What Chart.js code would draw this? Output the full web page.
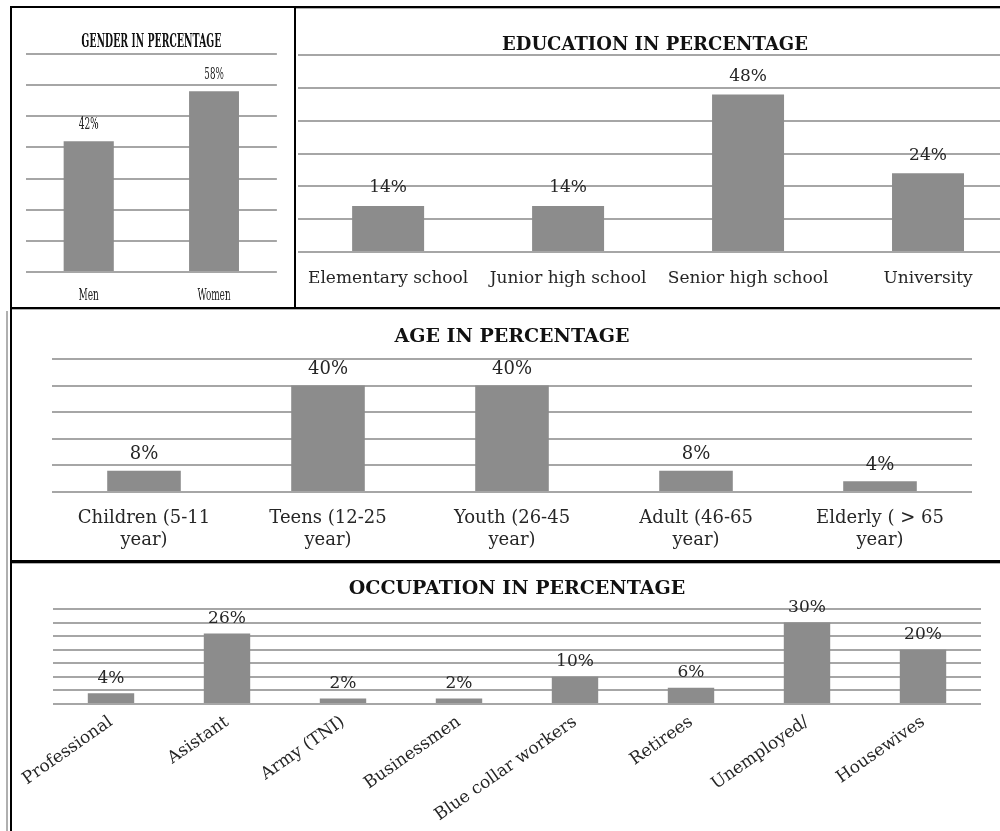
<!DOCTYPE html>
<html>
<head>
<meta charset="utf-8">
<script src="https://cdn.jsdelivr.net/npm/chart.js@4.4.1/dist/chart.umd.min.js"></script>
<style>
  html, body { margin: 0; padding: 0; background: #fff; }
  body { width: 1000px; height: 831px; overflow: hidden; position: relative; }
  .box { position: absolute; }
  .line { position: absolute; background: #000; }
  .gray { position: absolute; background: #b0b0b0; }
  canvas { display: block; }
</style>
</head>
<body>
<!-- the gender chart is squeezed sideways like the original -->
<div class="box" style="left:12px; top:9px; width:282px; height:297px; transform:scaleX(0.52); transform-origin:0 0;">
  <canvas id="genderChart" width="542" height="297"></canvas>
</div>
<div class="box" style="left:292px; top:9px;"><canvas id="educationChart" width="728" height="297"></canvas></div>
<div class="box" style="left:12px; top:310px;"><canvas id="ageChart" width="988" height="250"></canvas></div>
<div class="box" style="left:12px; top:564px;"><canvas id="occupationChart" width="988" height="267"></canvas></div>

<!-- panel borders -->
<div class="line" style="left:10px; top:6px; width:990px; height:2px;"></div>
<div class="gray" style="left:296px; top:8px; width:704px; height:1px;"></div>
<div class="line" style="left:10px; top:6px; width:2px; height:304px;"></div>
<div class="line" style="left:294px; top:6px; width:2px; height:304px;"></div>
<div class="line" style="left:10px; top:307px; width:990px; height:2px;"></div>
<div class="gray" style="left:12px; top:309px; width:988px; height:1px;"></div>
<div class="line" style="left:10px; top:307px; width:2px; height:524px;"></div>
<div class="gray" style="left:6px; top:311px; width:2px; height:520px;"></div>
<div class="line" style="left:10px; top:560px; width:990px; height:3px;"></div>
<div class="gray" style="left:12px; top:563px; width:988px; height:1px;"></div>

<script>
var genderLabels = ['Men', 'Women'];
var genderValues = [42, 58];

var educationLabels = ['Elementary school', 'Junior high school', 'Senior high school', 'University'];
var educationValues = [14, 14, 48, 24];

var ageLabels = [['Children (5-11', 'year)'], ['Teens (12-25', 'year)'], ['Youth (26-45', 'year)'], ['Adult (46-65', 'year)'], ['Elderly ( > 65', 'year)']];
var ageValues = [8, 40, 40, 8, 4];

var occupationLabels = ['Professional', 'Asistant', 'Army (TNI)', 'Businessmen', 'Blue collar workers', 'Retirees', 'Unemployed/', 'Housewives'];
var occupationValues = [4, 26, 2, 2, 10, 6, 30, 20];

var barColor = '#8c8c8c';
var gridColor = '#a6a6a6';
var textColor = '#262626';

Chart.defaults.font.family = '"DejaVu Serif", serif';
Chart.defaults.color = textColor;

// percent labels above each bar
var valueLabels = {
  id: 'valueLabels',
  afterDatasetsDraw: function(chart, args, opts) {
    var ctx = chart.ctx;
    var meta = chart.getDatasetMeta(0);
    var data = chart.data.datasets[0].data;
    ctx.save();
    ctx.font = opts.size + 'px "DejaVu Serif", serif';
    ctx.fillStyle = textColor;
    ctx.textAlign = 'center';
    ctx.textBaseline = 'middle';
    meta.data.forEach(function(bar, i) {
      ctx.fillText(data[i] + '%', bar.x, bar.y - opts.offset);
    });
    ctx.restore();
  }
};

function makeBarChart(id, labels, values, o) {
  var ctx = document.getElementById(id).getContext('2d');
  return new Chart(ctx, {
    type: 'bar',
    data: {
      labels: labels,
      datasets: [{
        data: values,
        backgroundColor: barColor,
        borderWidth: 0,
        categoryPercentage: 1,
        barPercentage: 0.4
      }]
    },
    options: {
      responsive: false,
      animation: false,
      devicePixelRatio: 1,
      layout: { padding: { left: o.left, right: o.right, top: 0, bottom: 0 } },
      plugins: {
        legend: { display: false },
        tooltip: { enabled: false },
        title: {
          display: true,
          text: o.title,
          color: '#111',
          font: { size: o.titleSize, weight: 'bold', lineHeight: 1 },
          padding: { top: o.titleTop, bottom: o.titleBottom }
        },
        valueLabels: { size: o.valueSize, offset: o.valueOffset }
      },
      scales: {
        x: {
          grid: { display: false, drawTicks: false },
          border: { display: false },
          ticks: {
            autoSkip: false,
            maxRotation: o.rotation || 0,
            minRotation: o.rotation || 0,
            padding: o.tickPad,
            color: textColor,
            font: { size: o.labelSize, lineHeight: o.labelLine }
          },
          afterFit: function(s) { s.height = o.axisHeight; }
        },
        y: {
          min: 0,
          max: o.max,
          ticks: { display: false, stepSize: o.step },
          grid: { color: gridColor, lineWidth: 2, drawTicks: false },
          border: { display: false },
          afterFit: function(s) { s.width = 0; }
        }
      }
    },
    plugins: [valueLabels]
  });
}

makeBarChart('genderChart', genderLabels, genderValues, {
  title: 'GENDER IN PERCENTAGE', titleSize: 18, titleTop: 24, titleBottom: 3,
  left: 27, right: 33, max: 70, step: 10,
  axisHeight: 34, tickPad: 13, labelSize: 17, labelLine: 1.2,
  valueSize: 17, valueOffset: 17
});

makeBarChart('educationChart', educationLabels, educationValues, {
  title: 'EDUCATION IN PERCENTAGE', titleSize: 18, titleTop: 27, titleBottom: 1,
  left: 0, right: 2, max: 60, step: 10,
  axisHeight: 54, tickPad: 16, labelSize: 17, labelLine: 1.2,
  valueSize: 17, valueOffset: 18
});

makeBarChart('ageChart', ageLabels, ageValues, {
  title: 'AGE IN PERCENTAGE', titleSize: 19, titleTop: 18, titleBottom: 12,
  left: 40, right: 28, max: 50, step: 10,
  axisHeight: 68, tickPad: 15, labelSize: 18, labelLine: '22px',
  valueSize: 18, valueOffset: 16
});

makeBarChart('occupationChart', occupationLabels, occupationValues, {
  title: 'OCCUPATION IN PERCENTAGE', titleSize: 19, titleTop: 16, titleBottom: 10,
  left: 41, right: 19, max: 35, step: 5,
  axisHeight: 127, tickPad: 8, labelSize: 17, labelLine: 1.2, rotation: 35,
  valueSize: 17, valueOffset: 15
});
</script>
</body>
</html>
